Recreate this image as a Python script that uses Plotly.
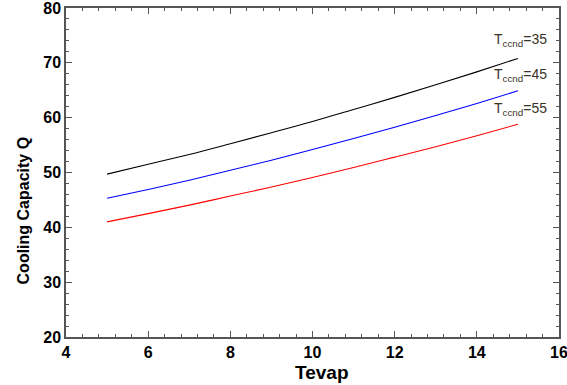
import plotly.graph_objects as go

tevap = [5, 6, 7, 8, 9, 10, 11, 12, 13, 14, 15]
q_35 = [49.7, 51.5, 53.3, 55.25, 57.25, 59.3, 61.5, 63.7, 66.0, 68.35, 70.8]
q_45 = [45.3, 46.9, 48.6, 50.4, 52.25, 54.2, 56.2, 58.25, 60.4, 62.6, 64.9]
q_55 = [41.0, 42.5, 44.05, 45.7, 47.35, 49.1, 50.9, 52.8, 54.7, 56.7, 58.8]
labels = ["T<sub>ccnd</sub>=35", "T<sub>ccnd</sub>=45", "T<sub>ccnd</sub>=55"]
label_y = [74.2, 67.8, 61.5]
colors = ["#000000", "#0000ff", "#ff0000"]
x_ticks = [4, 6, 8, 10, 12, 14, 16]
y_ticks = [20, 30, 40, 50, 60, 70, 80]

fig = go.Figure()
for ys, c in zip([q_35, q_45, q_55], colors):
    fig.add_trace(go.Scatter(x=tevap, y=ys, mode="lines",
                             line=dict(color=c, width=1.1, shape="spline"),
                             showlegend=False))

for t, yv in zip(labels, label_y):
    fig.add_annotation(x=14.38, y=yv, xref="x", yref="y", text=t, showarrow=False,
                       xanchor="left", yanchor="middle",
                       font=dict(family="Liberation Sans, Arial", size=14, color="#3a3328"))

fig.add_annotation(x=10.23, xref="x", y=-0.107, yref="paper", text="<b>Tevap</b>", showarrow=False,
                   xanchor="center", yanchor="middle",
                   font=dict(family="Liberation Sans, Arial", size=19, color="#000000"))
fig.add_annotation(x=-0.087, xref="paper", y=0.385, yref="paper", text="<b>Cooling Capacity Q</b>",
                   showarrow=False, textangle=-90, xanchor="center", yanchor="middle",
                   font=dict(family="Liberation Sans, Arial", size=16, color="#000000"))

axis_common = dict(
    showgrid=False, zeroline=False, showline=True, linecolor="#555555", linewidth=1.5,
    mirror="ticks", ticks="inside", ticklen=6, tickcolor="#555555", tickwidth=1,
    automargin=False, ticklabeloverflow="allow",
    tickfont=dict(family="Liberation Sans, Arial", size=16, color="#000000"),
)
fig.update_xaxes(range=[4, 16], tickvals=x_ticks,
                 ticktext=["<b>%d</b>" % v for v in x_ticks],
                 minor=dict(ticks="inside", ticklen=3, dtick=0.4, tick0=4, tickcolor="#555555"),
                 **axis_common)
fig.update_yaxes(range=[20, 80], tickvals=y_ticks,
                 ticktext=["<b>%d</b>" % v for v in y_ticks],
                 minor=dict(ticks="inside", ticklen=3, dtick=2, tick0=20, tickcolor="#555555"),
                 **axis_common)

fig.update_layout(width=567, height=385, margin=dict(l=66, r=8, t=8, b=48),
                  plot_bgcolor="#ffffff", paper_bgcolor="#ffffff")
fig.write_html("out.html", config={"displayModeBar": False},
               post_script="document.body.style.margin='0px';")
